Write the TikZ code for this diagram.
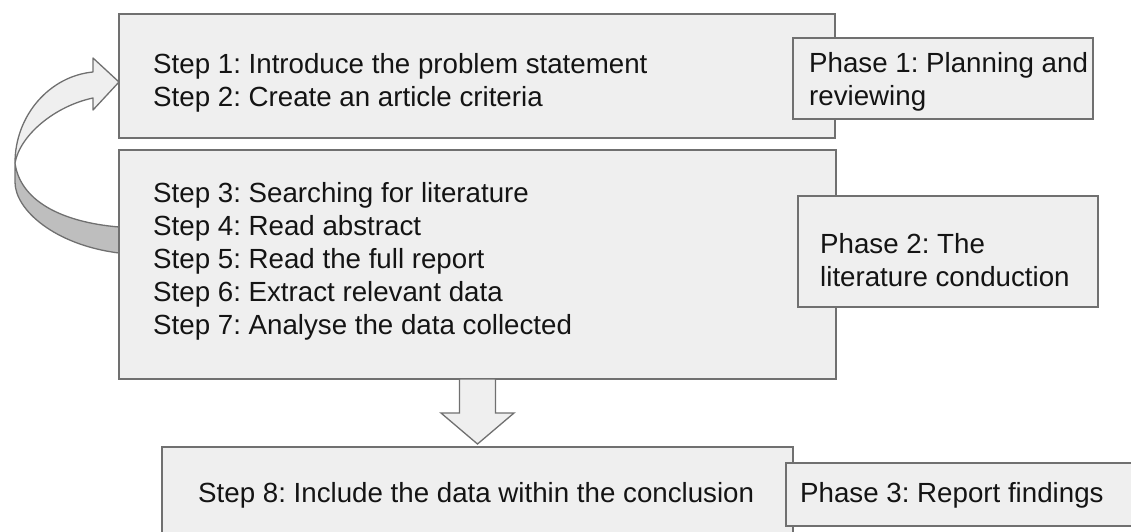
\documentclass[tikz,border=0pt]{standalone}
\usepackage{fontspec}
\setmainfont{Liberation Sans}
\usetikzlibrary{calc}
\frenchspacing
\definecolor{boxfill}{HTML}{EFEFEF}
\definecolor{boxline}{HTML}{707070}
\definecolor{ribbonback}{HTML}{BEBEBE}
\newcommand{\linesblock}[1]{\begin{tabular}[t]{@{}l@{}}#1\end{tabular}}
\begin{document}
\begin{tikzpicture}[x=1pt,y=1pt,
  panel/.style={draw=boxline, fill=boxfill, line width=1.3pt, inner sep=0pt,
                outer sep=0pt, anchor=north west, rectangle},
  steptext/.style={anchor=base west, inner sep=0pt,
                   font=\fontsize{27.7}{33}\selectfont, text=black!92},
  blockarrow/.style={draw=boxline, fill=boxfill, line width=1.3pt, line join=miter},
  ribbonfront/.style={draw=boxline, fill=boxfill, line width=1.3pt, line join=round},
  ribbonrear/.style={draw=boxline, fill=ribbonback, line width=1.3pt, line join=round}]

\useasboundingbox (0,0) rectangle (1131,-531);

% loop-back ribbon arrow on the left
\draw[ribbonrear] (15,-163) -- (15,-182)
  .. controls (15,-210) and (55,-245) .. (119,-253) -- (119,-227)
  .. controls (60,-222) and (20,-200) .. (15,-163) -- cycle;
\draw[ribbonfront] (93,-72)
  .. controls (50,-76) and (15,-115) .. (15,-163)
  .. controls (20,-135) and (55,-106) .. (93,-98)
  -- (93,-110) -- (119,-82) -- (93,-58) -- cycle;

% step panels
\node[panel, minimum width=716, minimum height=124] (s12) at (119,-14) {};
\node[panel, minimum width=717, minimum height=229] (s37) at (119,-150) {};
\node[panel, minimum width=631, minimum height=110] (s8) at (162,-447) {};

% phase panels
\node[panel, minimum width=300, minimum height=81] (p1) at (793,-38) {};
\node[panel, minimum width=300, minimum height=111] (p2) at (798,-196) {};
\node[panel, minimum width=347, minimum height=63] (p3) at (786,-463) {};

% texts
\node[steptext] (t12) at (153,-73) {\linesblock{Step 1: Introduce the problem statement\\Step 2: Create an article criteria}};
\node[steptext] (t37) at (153,-202) {\linesblock{Step 3: Searching for literature\\Step 4: Read abstract\\Step 5: Read the full report\\Step 6: Extract relevant data\\Step 7: Analyse the data collected}};
\node[steptext] (t8) at (198,-502) {Step 8: Include the data within the conclusion};
\node[steptext] (tp1) at (809,-72) {\linesblock{Phase 1: Planning and\\reviewing}};
\node[steptext] (tp2) at (820,-253) {\linesblock{Phase 2: The\\literature conduction}};
\node[steptext] (tp3) at (800,-502) {Phase 3: Report findings};

% down block arrow from the step 3-7 panel to the step 8 panel
\coordinate (aT) at (s37.south);
\coordinate (aP) at ($(s8.north -| s37.south)+(0,3)$);
\draw[blockarrow] ($(aT)+(-18,0)$) -- ($(aT)+(18,0)$) -- ($(aT)+(18,-34)$)
  -- ($(aT)+(36.5,-34)$) -- (aP) -- ($(aT)+(-36.5,-34)$)
  -- ($(aT)+(-18,-34)$) -- cycle;
\end{tikzpicture}
\end{document}
